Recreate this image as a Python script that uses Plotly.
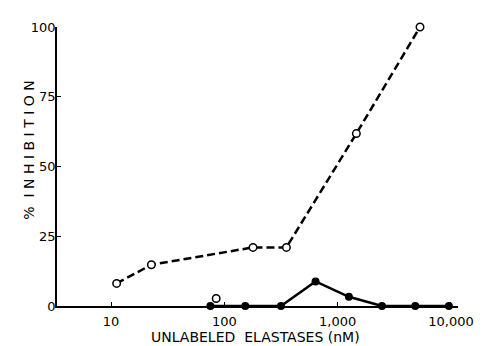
import plotly.graph_objects as go

# Open circles (dashed series)
open_x = [11.2, 22.7, 179, 353, 1462, 5330]
open_y = [8.1, 14.8, 21.0, 21.0, 61.8, 100]
# Isolated open circle
iso_x = [84.7]
iso_y = [2.7]
# Filled symbols (solid series)
filled_x = [75.3, 153, 316, 638, 1256, 2460, 4840, 9590]
filled_y = [0, 0, 0, 8.8, 3.3, 0, 0, 0]

x_tickvals = [10, 100, 1000, 10000]
x_ticktext = ["10", "100", "1,000", "10,000"]
y_tickvals = [0, 25, 50, 75, 100]

FONT = "DejaVu Sans"

# page has an 8px body margin: figure drawn from (8,8)
OFF = 8
W, H = 486 - OFF, 346 - OFF
L, R, T, B = 57 - OFF, 16, 20 - OFF, 40
pw = W - L - R
ph = H - T - B


def px_to_paper(px, py):
    fx, fy = px - OFF, py - OFF
    return (fx - L) / pw, (H - B - fy) / ph


fig = go.Figure()
fig.add_trace(go.Scatter(
    x=filled_x, y=filled_y, mode="lines+markers",
    line=dict(color="black", width=2.5),
    marker=dict(symbol="circle", size=8, color="black"),
    cliponaxis=False, showlegend=False))
fig.add_trace(go.Scatter(
    x=open_x, y=open_y, mode="lines+markers",
    line=dict(color="black", width=2.5, dash="8px,4px"),
    marker=dict(symbol="circle", size=7.5, color="white",
                line=dict(color="black", width=1.5)),
    cliponaxis=False, showlegend=False))
fig.add_trace(go.Scatter(
    x=iso_x, y=iso_y, mode="markers",
    marker=dict(symbol="circle", size=7.5, color="white",
                line=dict(color="black", width=1.5)),
    cliponaxis=False, showlegend=False))

ax, ay = px_to_paper(261, 338)
bx, by = px_to_paper(28, 146)

fig.update_layout(
    width=W, height=H,
    margin=dict(l=L, r=R, t=T, b=B, pad=0),
    paper_bgcolor="white", plot_bgcolor="white",
    font=dict(family=FONT, size=13, color="black"),
    xaxis=dict(type="log", range=[0.523, 4.062],
               tickvals=x_tickvals, ticktext=x_ticktext,
               ticks="inside", ticklen=4, tickwidth=1, tickcolor="black",
               ticklabelstandoff=3,
               showline=True, linecolor="black", linewidth=1.5,
               showgrid=False, zeroline=False),
    yaxis=dict(range=[0, 100], tickvals=y_tickvals,
               ticks="inside", ticklen=4, tickwidth=1, tickcolor="black",
               ticklabelstandoff=-3,
               showline=True, linecolor="black", linewidth=1.5,
               showgrid=False, zeroline=False),
    annotations=[
        dict(text="UNLABELED  ELASTASES (nM)",
             x=ax, y=ay, xref="paper", yref="paper",
             xanchor="center", yanchor="middle",
             showarrow=False, font=dict(size=14, family=FONT)),
        dict(text="%  I N H I B I T I O N", textangle=-90,
             x=bx, y=by, xref="paper", yref="paper",
             xanchor="center", yanchor="middle",
             showarrow=False, font=dict(size=14, family=FONT)),
    ],
)

fig.write_html("out.html")
